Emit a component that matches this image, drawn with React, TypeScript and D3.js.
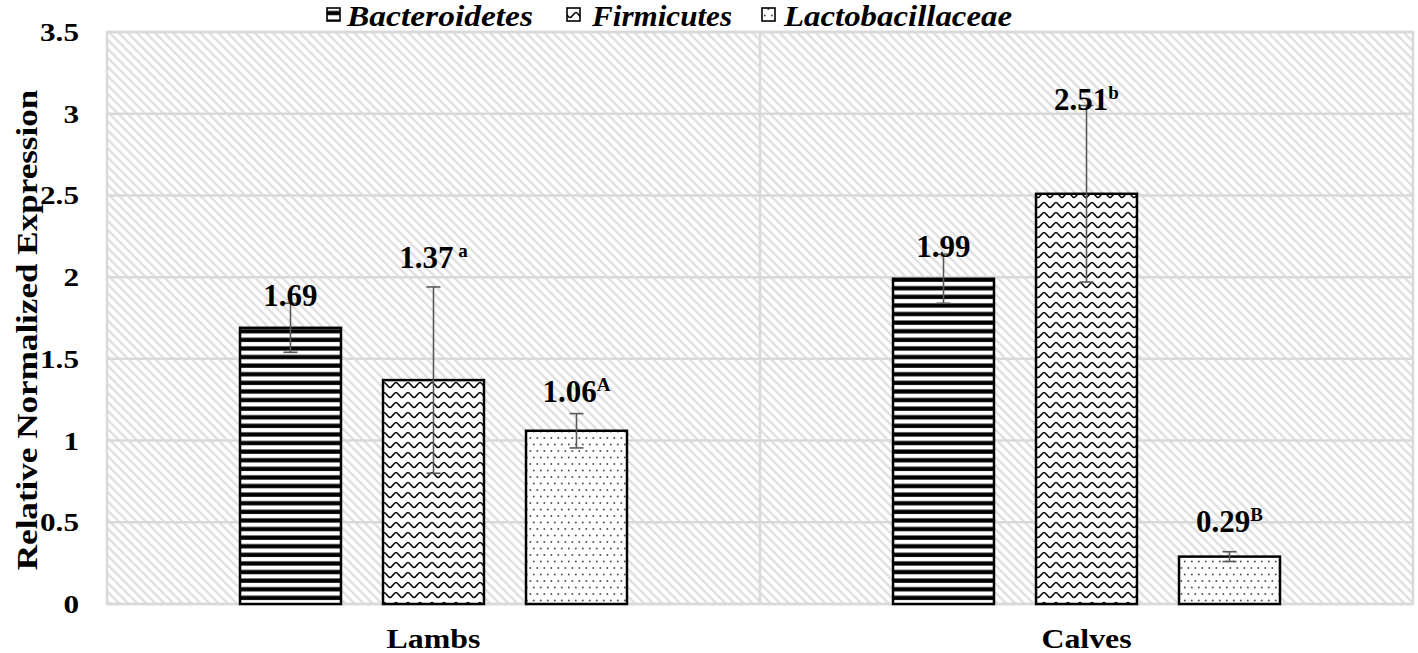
import React from "react";
import * as d3 from "d3";

const categories = ["Lambs", "Calves"];
const seriesNames = ["Bacteroidetes", "Firmicutes", "Lactobacillaceae"];
const bacteroidetes = [1.69, 1.99];
const firmicutes = [1.37, 2.51];
const lactobacillaceae = [1.06, 0.29];
const bacteroidetesErr = [0.15, 0.15];
const firmicutesErr = [0.57, 0.54];
const lactobacillaceaeErr = [0.105, 0.03];
const bacteroidetesSup = ["", ""];
const firmicutesSup = [" a", "b"];
const lactobacillaceaeSup = ["A", "B"];
// value (in data units) at which each value label's baseline sits
const bacteroidetesLabelAt = [1.823, 2.123];
const firmicutesLabelAt = [2.056, 3.023];
const lactobacillaceaeLabelAt = [1.236, 0.441];
const yTicks = [0, 0.5, 1, 1.5, 2, 2.5, 3, 3.5];

const seriesValues = [bacteroidetes, firmicutes, lactobacillaceae];
const seriesErrs = [bacteroidetesErr, firmicutesErr, lactobacillaceaeErr];
const seriesSups = [bacteroidetesSup, firmicutesSup, lactobacillaceaeSup];
const seriesLabelAt = [bacteroidetesLabelAt, firmicutesLabelAt, lactobacillaceaeLabelAt];
const patternIds = ["pStripes", "pWaves", "pDots"];

const W = 1418, H = 653;
const left = 107, right = 1413, top = 32, bottom = 604;
const FONT = "Liberation Serif";

export default function App() {
  const y = d3.scaleLinear().domain([0, 3.5]).range([bottom, top]);
  const x0 = d3.scaleBand().domain(categories).range([left, right]).padding(0);
  const bw0 = x0.bandwidth();
  const x1 = d3.scaleBand().domain(seriesNames).range([bw0 * 0.2037, bw0 * 0.7963]).paddingInner(0.294).paddingOuter(0);
  const bw = x1.bandwidth();
  const stretch = 1.2;

  const legendItems = [
    { name: "Bacteroidetes", icon: 327, text: 347, width: 186 },
    { name: "Firmicutes", icon: 567, text: 592, width: 140 },
    { name: "Lactobacillaceae", icon: 762, text: 784, width: 228 },
  ];

  return (
    <svg width={W} height={H} style={{ position: "absolute", left: 0, top: 0, background: "#fff", fontFamily: FONT }}>
      <defs>
        <pattern id="bgHatch" width="6.4" height="6.4" patternUnits="userSpaceOnUse" patternTransform="rotate(-45)">
          <rect width="6.4" height="6.4" fill="#fff" />
          <line x1="3.2" y1="0" x2="3.2" y2="6.4" stroke="#dcdcdc" strokeWidth="2.2" />
        </pattern>
        <pattern id="pStripes" width="10" height="8.6" patternUnits="userSpaceOnUse">
          <rect width="10" height="8.6" fill="#fff" />
          <rect y="2.3" width="10" height="4.3" fill="#000" />
        </pattern>
        <pattern id="pWaves" width="12" height="10" patternUnits="userSpaceOnUse">
          <rect width="12" height="10" fill="#fff" />
          <path d="M0,2.5 C2,2.5 4,7.5 6,7.5 C8,7.5 10,2.5 12,2.5" fill="none" stroke="#000" strokeWidth="1.6" />
        </pattern>
        <pattern id="pDots" width="7" height="13" patternUnits="userSpaceOnUse">
          <rect width="7" height="13" fill="#fff" />
          <circle cx="1.8" cy="2.5" r="1" fill="#555" />
          <circle cx="5.3" cy="9" r="1" fill="#555" />
        </pattern>
      </defs>

      {/* plot background */}
      <rect x={left} y={top} width={right - left} height={bottom - top} fill="url(#bgHatch)" stroke="#d9d9d9" strokeWidth={2.5} />
      {yTicks.map((t) => (
        <line key={"g" + t} x1={left} x2={right} y1={y(t)} y2={y(t)} stroke="#d9d9d9" strokeWidth={2.5} />
      ))}
      <line x1={x0(categories[1])} x2={x0(categories[1])} y1={top} y2={bottom} stroke="#d9d9d9" strokeWidth={2.5} />

      {/* bars */}
      {seriesNames.map((s, si) =>
        categories.map((c, ci) => {
          const v = seriesValues[si][ci];
          const bx = (x0(c) as number) + (x1(s) as number);
          return (
            <rect key={s + c} x={bx} y={y(v)} width={bw} height={y(0) - y(v)} fill={`url(#${patternIds[si]})`} stroke="#000" strokeWidth={2.5} />
          );
        })
      )}

      {/* error bars */}
      {seriesNames.map((s, si) =>
        categories.map((c, ci) => {
          const v = seriesValues[si][ci];
          const e = seriesErrs[si][ci];
          const cx = (x0(c) as number) + (x1(s) as number) + bw / 2;
          return (
            <g key={"e" + s + c} stroke="#595959" strokeWidth={1.6}>
              <line x1={cx} x2={cx} y1={y(v + e)} y2={y(v - e)} />
              <line x1={cx - 7} x2={cx + 7} y1={y(v + e)} y2={y(v + e)} />
              <line x1={cx - 7} x2={cx + 7} y1={y(v - e)} y2={y(v - e)} />
            </g>
          );
        })
      )}

      {/* value labels */}
      {seriesNames.map((s, si) =>
        categories.map((c, ci) => {
          const v = seriesValues[si][ci];
          const cx = (x0(c) as number) + (x1(s) as number) + bw / 2;
          const sup = seriesSups[si][ci];
          return (
            <text key={"l" + s + c} x={cx} y={y(seriesLabelAt[si][ci])} textAnchor="middle" fontWeight="bold" fontSize={31} fill="#000">
              {v.toFixed(2)}
              {sup && (
                <tspan fontSize={19} dy={-11} style={{ whiteSpace: "pre" }}>{sup}</tspan>
              )}
            </text>
          );
        })
      )}

      {/* y tick labels */}
      {yTicks.map((t) => (
        <text key={"t" + t} transform={`translate(79,${y(t) + 9}) scale(${stretch},1)`} textAnchor="end" fontWeight="bold" fontSize={26} fill="#000">
          {String(t)}
        </text>
      ))}

      {/* category labels */}
      {categories.map((c) => (
        <text key={"c" + c} transform={`translate(${(x0(c) as number) + bw0 / 2},648) scale(1.18,1)`} textAnchor="middle" fontWeight="bold" fontSize={27} fill="#000">
          {c}
        </text>
      ))}

      {/* axis title */}
      <text transform={`translate(37,${(top + bottom) / 2 + 12}) rotate(-90) scale(1.21,1)`} textAnchor="middle" fontWeight="bold" fontSize={29} fill="#000">
        Relative Normalized Expression
      </text>

      {/* legend */}
      {legendItems.map((it, i) => (
        <g key={"lg" + it.name}>
          <rect x={it.icon} y={8} width={13} height={13} fill={`url(#${patternIds[i]})`} stroke="#000" strokeWidth={1.6} />
          <text x={it.text} y={26} fontWeight="bold" fontStyle="italic" fontSize={29} textLength={it.width} lengthAdjust="spacingAndGlyphs" fill="#000">
            {it.name}
          </text>
        </g>
      ))}
    </svg>
  );
}
